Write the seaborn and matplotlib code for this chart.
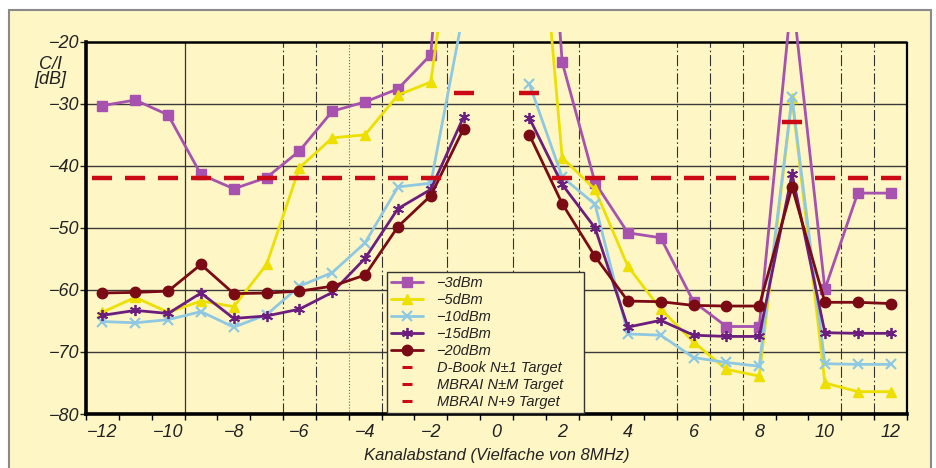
import numpy as np
import pandas as pd
import seaborn as sns
import matplotlib.pyplot as plt
from matplotlib.lines import Line2D
from matplotlib.patches import Rectangle

# channel offsets (no point at 0), left and right of the wanted channel
kanal = [-12, -11, -10, -9, -8, -7, -6, -5, -4, -3, -2, -1,
         1, 2, 3, 4, 5, 6, 7, 8, 9, 10, 11, 12]
seite = ['links'] * 12 + ['rechts'] * 12

# C/I in dB (values at +-1 for the strong levels lie off the top)
ci_3dbm = [-30.3, -29.4, -31.8, -41.4, -43.7, -41.9, -37.6, -31.2, -29.7, -27.6, -22.1, 45.0,
           50.0, -23.3, -42.7, -50.8, -51.6, -61.9, -65.9, -65.9, -12.0, -59.9, -44.4, -44.4]
ci_5dbm = [-63.6, -61.2, -63.6, -61.8, -62.7, -55.9, -40.3, -35.5, -35.0, -28.6, -26.5, 12.0,
           22.0, -38.7, -43.8, -56.2, -63.1, -68.4, -72.8, -73.9, -29.1, -75.0, -76.4, -76.4]
ci_10dbm = [-65.1, -65.3, -64.8, -63.5, -66.0, -64.0, -59.4, -57.2, -52.4, -43.4, -42.8, -15.0,
            -26.8, -41.8, -46.2, -67.1, -67.3, -70.9, -71.7, -72.3, -28.9, -71.9, -72.0, -72.0]
ci_15dbm = [-64.1, -63.3, -63.8, -60.5, -64.6, -64.2, -63.1, -60.4, -54.9, -46.9, -43.8, -32.1,
            -32.3, -43.0, -50.0, -66.0, -64.9, -67.3, -67.5, -67.5, -41.3, -66.9, -67.0, -67.0]
ci_20dbm = [-60.5, -60.4, -60.2, -55.9, -60.6, -60.5, -60.2, -59.4, -57.6, -49.8, -44.8, -34.0,
            -35.0, -46.1, -54.6, -61.8, -61.9, -62.5, -62.6, -62.6, -43.4, -62.0, -62.0, -62.2]

# target values
dbook_kanal = [-12, -11, -10, -9, -8, -7, -6, -5, -4, -3, -2,
               2, 3, 4, 5, 6, 7, 8, 10, 11, 12]
dbook_ci = [-42.0] * len(dbook_kanal)
mbrai_nm_kanal = [-1, 1]
mbrai_nm_ci = [-28.3, -28.3]
mbrai_n9_kanal = [9]
mbrai_n9_ci = [-33.0]

serien_namen = ['−3dBm', '−5dBm', '−10dBm', '−15dBm', '−20dBm']
ziel_namen = ['D-Book N±1 Target', 'MBRAI N±M Target    ', 'MBRAI N+9 Target']

x_labels = ['−12', '−10', '−8', '−6', '−4', '−2', '0', '2', '4', '6', '8', '10', '12']
x_label_pos = [-12, -10, -8, -6, -4, -2, 0, 2, 4, 6, 8, 10, 12]
y_ticks = [-80, -70, -60, -50, -40, -30, -20]
y_labels = ['−80', '−70', '−60', '−50', '−40', '−30', '−20']

creme = '#FFF6C6'
rot = '#CC0A16'
text_c = '#222222'

sns.set_style('white')
plt.rcParams['font.family'] = ['Liberation Sans Narrow', 'Liberation Sans', 'DejaVu Sans']
plt.rcParams['font.style'] = 'italic'

fig = plt.figure(figsize=(9.37, 4.68), dpi=100, facecolor='white')
fig.patches.append(Rectangle((9 / 937, -0.01), 922 / 937, 1 - 10 / 468 + 0.01,
                             transform=fig.transFigure, facecolor=creme,
                             edgecolor='#8a8a8a', linewidth=1.5, zorder=-5))
ax = fig.add_axes([86 / 937, 54 / 468, 821 / 937, (414 - 32.4) / 468])
ax.set_facecolor('none')

# grid
ax.hlines([-30, -40, -50, -60, -70], -12.5, 12.5, colors='#3a3a3a', linewidth=1.0, zorder=1)
ax.vlines([-9.5], -80, -20, colors='#333333', linewidth=0.9, zorder=1)
ax.vlines([-6.5, -5.5, -3.5, -1.5, 0.5, 2.5, 5.5, 6.5, 7.5, 10.5, 11.5], -80, -20,
          colors='#333333', linewidth=0.8, linestyles=[(0, (10, 2.5, 1.5, 2.5))], zorder=1)
ax.vlines([-4.5], -80, -20, colors='#666666', linewidth=0.8, linestyles=':', zorder=1)
ax.hlines([-20], -12.5, 12.5, colors='black', linewidth=1.8, zorder=1, clip_on=False)
ax.vlines([12.5], -80, -20, colors='black', linewidth=1.6, zorder=1, clip_on=False)

serien = [
    (ci_3dbm, '#A652AE', 's', 7, 1.0),
    (ci_5dbm, '#EDE000', '^', 7, 1.0),
    (ci_10dbm, '#8EC8E2', 'x', 7, 1.6),
    (ci_15dbm, '#6B1E7E', (6, 2, 0), 8, 1.3),
    (ci_20dbm, '#7A0A14', 'o', 7.5, 1.0),
]

handles = []
for vals, farbe, marker, ms, mew in serien:
    d = pd.DataFrame({'kanal': kanal, 'ci': vals, 'seite': seite})
    sns.lineplot(data=d, x='kanal', y='ci', units='seite', estimator=None,
                 color=farbe, marker=marker, markersize=ms, markeredgecolor=farbe,
                 markeredgewidth=mew, linewidth=2.0, legend=False, ax=ax, zorder=3)
    handles.append(Line2D([], [], color=farbe, marker=marker, markersize=ms,
                          markeredgecolor=farbe, markeredgewidth=mew, linewidth=2.0))

for kx, ky in [(dbook_kanal, dbook_ci), (mbrai_nm_kanal, mbrai_nm_ci), (mbrai_n9_kanal, mbrai_n9_ci)]:
    sns.lineplot(x=kx, y=ky, estimator=None, linestyle='none', marker='_',
                 markersize=15, markeredgewidth=3.2, color=rot, markeredgecolor=rot,
                 legend=False, ax=ax, zorder=4)
    handles.append(Line2D([], [], linestyle='none', marker='_', markersize=7,
                          markeredgewidth=2.2, color=rot, markeredgecolor=rot))

ax.set_xlim(-12.5, 12.5)
ax.set_ylim(-80, -18.5)

ax.set_xticks(np.arange(-12.5, 13, 1.0))
ax.set_xticklabels([])
ax.set_xticks(x_label_pos, minor=True)
ax.set_xticklabels(x_labels, minor=True)
ax.tick_params(axis='x', which='major', direction='out', length=4, width=1, color='black', bottom=True)
ax.tick_params(axis='x', which='minor', length=0, labelsize=13, pad=7, labelcolor=text_c, bottom=True)
ax.set_yticks(y_ticks)
ax.set_yticklabels(y_labels)
ax.tick_params(axis='y', direction='out', length=4, width=1, labelsize=13, pad=1,
               labelcolor=text_c, left=True)

for s in ['top', 'right']:
    ax.spines[s].set_visible(False)
ax.spines['left'].set_linewidth(2.6)
ax.spines['bottom'].set_linewidth(2.6)
ax.spines['left'].set_color('black')
ax.spines['bottom'].set_color('black')
ax.spines['left'].set_bounds(-80, -20)

ax.set_xlabel('Kanalabstand (Vielfache von 8MHz)', fontsize=12, color=text_c, labelpad=5)
ax.set_ylabel('')
fig.text(50 / 937, 1 - 72 / 468, 'C/I\n[dB]', ha='center', va='center',
         fontsize=13, color=text_c, linespacing=0.9)

leg = ax.legend(handles, serien_namen + ziel_namen, loc='lower left',
                bbox_to_anchor=(387 / 937, 55 / 468), bbox_transform=fig.transFigure,
                frameon=True, fancybox=False, edgecolor='#333333', facecolor=creme,
                framealpha=1, fontsize=10.5, labelspacing=0.2, handlelength=2.2,
                handletextpad=0.9, borderpad=0.3, borderaxespad=0)
leg.get_frame().set_linewidth(1.0)
for t in leg.get_texts():
    t.set_color(text_c)

fig.savefig('out.png', dpi=100, facecolor='white')
